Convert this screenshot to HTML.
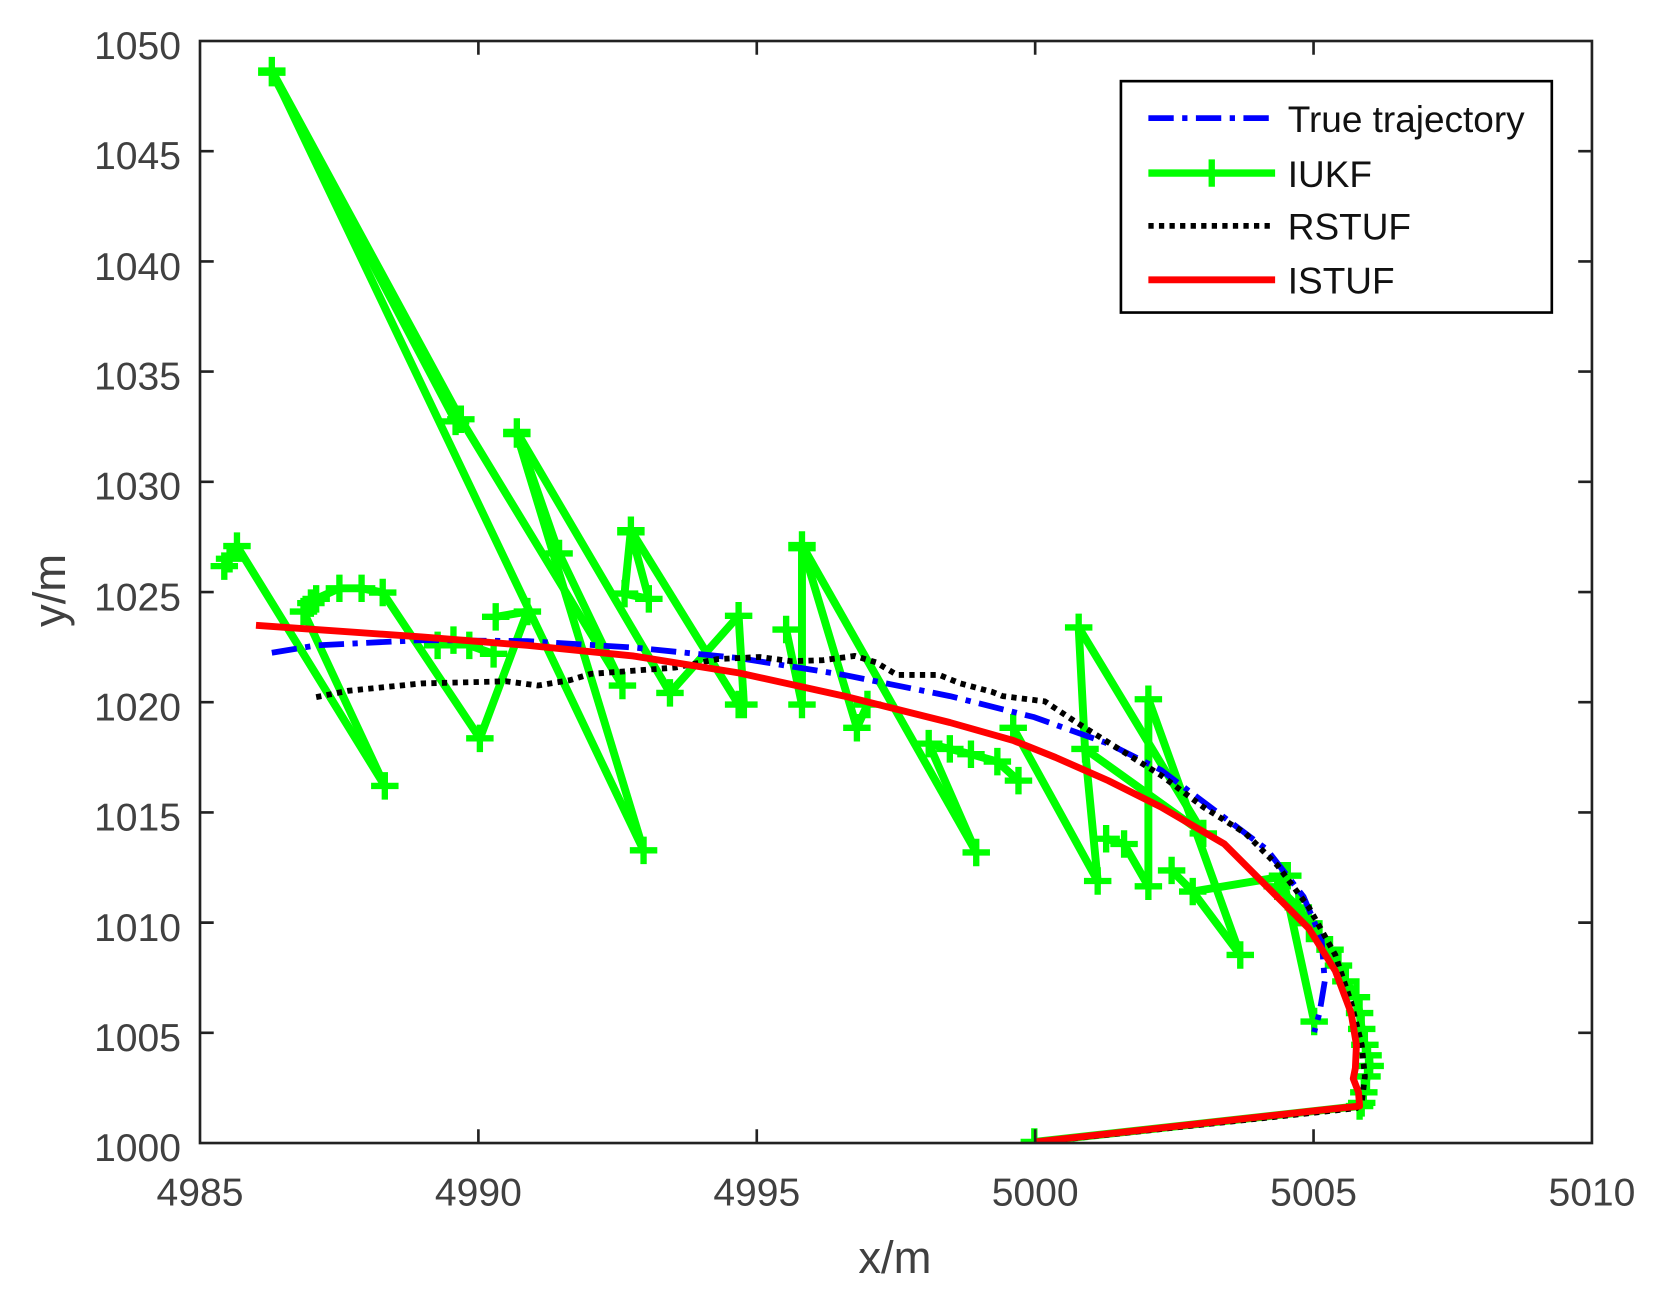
<!DOCTYPE html>
<html><head><meta charset="utf-8"><style>html,body{margin:0;padding:0;background:#fff;}svg{display:block;}</style></head>
<body>
<svg width="1654" height="1301" viewBox="0 0 1654 1301" xmlns="http://www.w3.org/2000/svg">
<rect width="1654" height="1301" fill="#fff"/>
<g transform="translate(200,41) scale(1.0561,1.0566) translate(-190,-40)" font-family="Liberation Sans, Arial, sans-serif">
<defs><clipPath id="c"><rect x="190" y="40" width="1318" height="1043"/></clipPath></defs>
<g clip-path="url(#c)" fill="none" stroke-linejoin="round">
<g id="g" stroke="#00ff00" stroke-width="7.5">
<polyline points="258,68 437,398 590,650"/>
<polyline points="258,68 610,806"/>
<polyline points="258,70 432,400"/>
<polyline points="490,410 530,525 590,650"/>
<polyline points="490,410 635,657"/>
<polyline points="213,537 218,530 225,518 365,745"/>
<polyline points="288,580 365,745"/>
<polyline points="288,580 295,572 300,568 322,558 343,558 363,562 455,700"/>
<polyline points="415,612 430,607 445,612 468,620"/>
<polyline points="470,585 500,580 455,700"/>
<polyline points="490,412 610,806"/>
<polyline points="598,503 592,563 615,568"/>
<polyline points="598,503 700,668"/>
<polyline points="598,505 615,568"/>
<polyline points="700,584 705,668"/>
<polyline points="745,597 760,668"/>
<polyline points="700,584 635,657"/>
<polyline points="760,517 812,690 822,668"/>
<polyline points="760,517 925,808"/>
<polyline points="760,520 760,668"/>
<polyline points="880,705 900,710 920,715 945,722 965,740"/>
<polyline points="880,705 925,808"/>
<polyline points="960,690 1040,835"/>
<polyline points="1022,595 1140,790"/>
<polyline points="1022,595 1028,710 1040,835"/>
<polyline points="1028,710 1140,790"/>
<polyline points="1088,663 1175,905"/>
<polyline points="1088,663 1088,840"/>
<polyline points="1048,795 1065,800 1088,840"/>
<polyline points="1110,825 1130,845 1220,830"/>
<polyline points="1130,845 1175,905"/>
<polyline points="1215,830 1245,968"/>
<polyline points="1210,840 1230,860 1240,875 1250,890 1260,900 1268,915 1275,930 1285,945 1288,960 1290,975 1293,990 1296,1000 1298,1010 1295,1020 1292,1035 1290,1045 1288,1048 980,1082"/>
</g>
<path id="m" stroke="#00ff00" stroke-width="6" d=""/>
<polyline stroke="#0000ff" stroke-width="5.5" stroke-dasharray="24,8,5,8" points="258,619 300,612 400,607 500,608 600,614 700,624 800,640 900,660 980,680 1050,705 1100,730 1160,775 1200,805 1235,850 1252,890 1255,930 1250,960 1245,978"/>
<polyline stroke="#000" stroke-width="5.5" stroke-dasharray="5,5" points="300,661 330,655 360,652 400,648 440,647 480,646 510,650 540,645 560,639 600,636 640,633 680,625 720,623 750,627 780,626 810,622 830,628 850,640 890,640 910,648 940,656 950,660 990,665 1020,685 1060,710 1100,735 1140,765 1180,790 1210,820 1240,860 1265,905 1280,950 1290,990 1293,1020 1290,1045 1285,1050 985,1082"/>
<polyline stroke="#ff0000" stroke-width="6.5" points="243,593 300,597 400,604 500,612 600,622 700,638 800,660 900,685 960,702 1000,718 1050,740 1100,765 1160,800 1200,840 1240,880 1265,920 1280,960 1285,990 1284,1012 1282,1022 1287,1035 1288,1048 1250,1052 980,1082"/>
</g>
<g stroke="#222" stroke-width="2.5" fill="none">
<rect x="190" y="40" width="1318" height="1043"/>
<path d="M453.6,1083v-13M717.2,1083v-13M980.8,1083v-13M1244.4,1083v-13M453.6,40v13M717.2,40v13M980.8,40v13M1244.4,40v13
M190,144.3h13M190,248.6h13M190,352.9h13M190,457.2h13M190,561.5h13M190,665.8h13M190,770.1h13M190,874.4h13M190,978.7h13
M1508,144.3h-13M1508,248.6h-13M1508,352.9h-13M1508,457.2h-13M1508,561.5h-13M1508,665.8h-13M1508,770.1h-13M1508,874.4h-13M1508,978.7h-13"/>
</g>
<g fill="#404040" font-size="37" text-anchor="end">
<text x="172" y="57">1050</text><text x="172" y="161">1045</text><text x="172" y="266">1040</text><text x="172" y="370">1035</text><text x="172" y="474">1030</text><text x="172" y="579">1025</text><text x="172" y="683">1020</text><text x="172" y="787">1015</text><text x="172" y="892">1010</text><text x="172" y="996">1005</text><text x="172" y="1100">1000</text>
</g>
<g fill="#404040" font-size="37" text-anchor="middle">
<text x="190" y="1142">4985</text><text x="453.6" y="1142">4990</text><text x="717.2" y="1142">4995</text><text x="980.8" y="1142">5000</text><text x="1244.4" y="1142">5005</text><text x="1508" y="1142">5010</text>
<text x="848" y="1206" font-size="43">x/m</text>
<text transform="translate(62,560) rotate(-90)" font-size="43">y/m</text>
</g>
<rect x="1062" y="78" width="408" height="219" fill="#fff" stroke="#000" stroke-width="2.5"/>
<line x1="1088" y1="113" x2="1208" y2="113" stroke="#0000ff" stroke-width="5.5" stroke-dasharray="24,8,5,8"/>
<line x1="1088" y1="165" x2="1208" y2="165" stroke="#00ff00" stroke-width="7"/>
<path d="M1135,165h26M1148,152v26" stroke="#00ff00" stroke-width="6"/>
<line x1="1088" y1="215" x2="1208" y2="215" stroke="#000" stroke-width="5.5" stroke-dasharray="5,5"/>
<line x1="1088" y1="266" x2="1208" y2="266" stroke="#ff0000" stroke-width="6.5"/>
<g font-size="35" fill="#111">
<text x="1220" y="126">True trajectory</text><text x="1220" y="178">IUKF</text><text x="1220" y="228">RSTUF</text><text x="1220" y="279">ISTUF</text>
</g>
</g>
<script>
(function(){var d='';var seen={};document.querySelectorAll('#g polyline').forEach(function(pl){pl.getAttribute('points').trim().split(/\s+/).forEach(function(p){if(seen[p])return;seen[p]=1;var a=p.split(',');var x=+a[0],y=+a[1];d+='M'+(x-13)+','+y+'h26M'+x+','+(y-13)+'v26';});});document.getElementById('m').setAttribute('d',d);})();
</script>
</svg>
</body></html>
